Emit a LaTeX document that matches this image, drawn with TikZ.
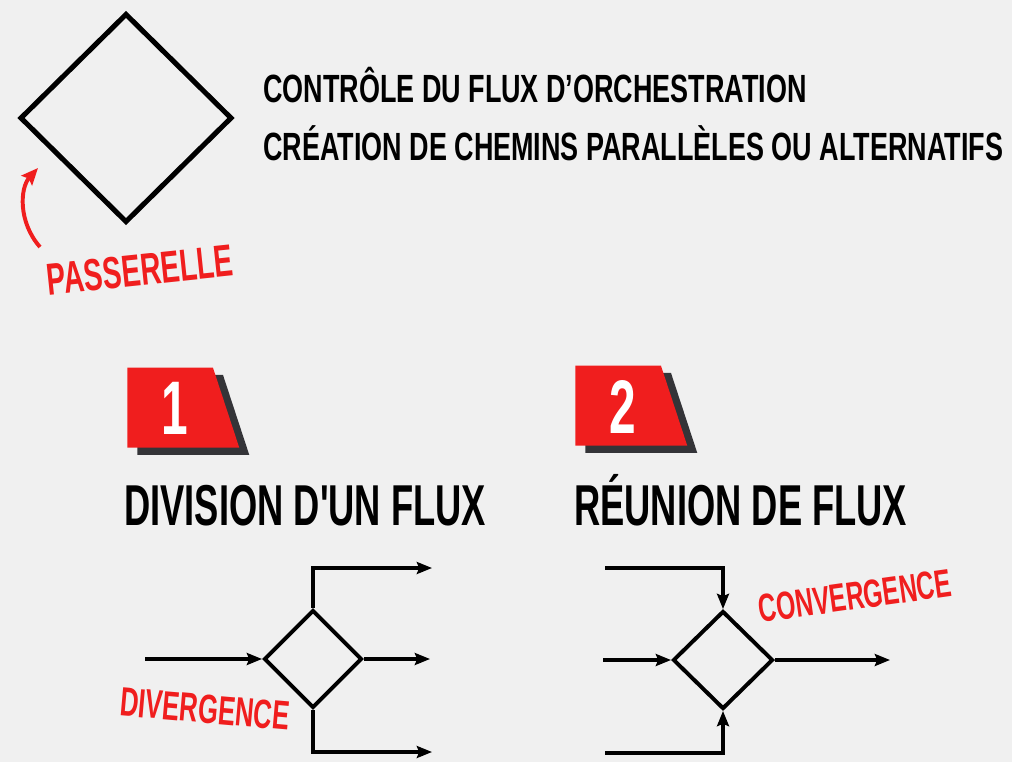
\documentclass[tikz,border=0pt]{standalone}
\usepackage{fontspec}
\newfontfamily\narrowfont[FakeStretch=0.63]{Liberation Sans}
\newfontfamily\captionfont[FakeStretch=0.685]{Liberation Sans}
\usetikzlibrary{arrows.meta,positioning,shapes.geometric,shadows}
\definecolor{paper}{RGB}{240,240,240}
\definecolor{signal}{RGB}{240,30,30}
\definecolor{shade}{RGB}{52,52,56}

\begin{document}
\begin{tikzpicture}[
  x=0.025cm,
  y=-0.025cm,
  >={Stealth[length=3.8mm,width=3mm,inset=0.6mm]},
  gate/.style={
    diamond,
    draw,
    line width=2.8pt,
    inner sep=0pt,
    minimum width=24.5mm,
    minimum height=24.5mm
  },
  badge/.style={
    trapezium,
    trapezium left angle=89.9,
    trapezium right angle=77,
    trapezium stretches,
    fill=signal,
    minimum width=28mm,
    minimum height=20mm,
    inner sep=0pt,
    anchor=bottom left corner,
    drop shadow={shadow xshift=2.5mm,shadow yshift=-1.8mm,opacity=1,fill=shade}
  },
  number/.style={text=white,inner sep=0pt,
    font=\narrowfont\bfseries\fontsize{54}{54}\selectfont},
  heading/.style={anchor=base west,inner sep=0pt,
    font=\narrowfont\bfseries\fontsize{41}{41}\selectfont},
  caption/.style={anchor=base west,inner sep=0pt,
    font=\captionfont\bfseries\fontsize{28}{28}\selectfont},
  tag/.style={text=signal,inner sep=0pt,
    font=\narrowfont\bfseries\fontsize{29}{29}\selectfont},
  flow/.style={->,line width=2.2pt}
]
  \path[use as bounding box,fill=paper] (0,0) rectangle (1012,762);

  % gateway symbol and its meaning
  \node[gate,line width=3.6pt,minimum width=53mm,minimum height=52.3mm]
    (gateway) at (126,118) {};
  \node[caption] (control) at (263,102) {CONTRÔLE DU FLUX D’ORCHESTRATION};
  \node[caption] (paths) at (263,160) {CRÉATION DE CHEMINS PARALLÈLES OU ALTERNATIFS};
  \node[tag,rotate=6,font=\narrowfont\bfseries\fontsize{32}{32}\selectfont]
    (passerelle) at (140,270) {PASSERELLE};
  \coordinate (tail) at (40,247);
  \coordinate (tip) at (38,168);
  \draw[signal,line width=2.8pt,-{Stealth[length=4.2mm,width=3.6mm,inset=0.7mm]}]
    (tail) .. controls (18,222) and (20,188) .. (tip);

  % 1: split
  \node[badge] (badge one) at (127,448) {\phantom{1}};
  \node[number] (one) at (175,408) {1};
  \node[heading] (split) at (124,525) {DIVISION D'UN FLUX};
  \node[gate] (split gate) at (313,659) {};
  \coordinate (split in) at (145,659);
  \coordinate (split up) at (432,568);
  \coordinate (split mid) at (430,659);
  \coordinate (split down) at (432,752);
  \draw[flow] (split in) -- (split gate.west);
  \draw[flow] (split gate.north) |- (split up);
  \draw[flow] (split gate.east) -- (split mid);
  \draw[flow] (split gate.south) |- (split down);
  \node[tag,rotate=-5] (divergence) at (205,709) {DIVERGENCE};

  % 2: merge
  \node[badge] (badge two) at (575,446) {\phantom{2}};
  \node[number] (two) at (623,407) {2};
  \node[heading] (merge) at (574,525) {RÉUNION DE FLUX};
  \node[gate,minimum width=25mm] (merge gate) at (723,660) {};
  \coordinate (merge up) at (605,568);
  \coordinate (merge in) at (603,660);
  \coordinate (merge down) at (605,753);
  \coordinate (merge out) at (890,660);
  \draw[flow] (merge up) -| (merge gate.north);
  \draw[flow] (merge in) -- (merge gate.west);
  \draw[flow] (merge down) -| (merge gate.south);
  \draw[flow] (merge gate.east) -- (merge out);
  \node[tag,rotate=8,font=\narrowfont\bfseries\fontsize{28}{28}\selectfont]
    (convergence) at (855,596) {CONVERGENCE};
\end{tikzpicture}
\end{document}
